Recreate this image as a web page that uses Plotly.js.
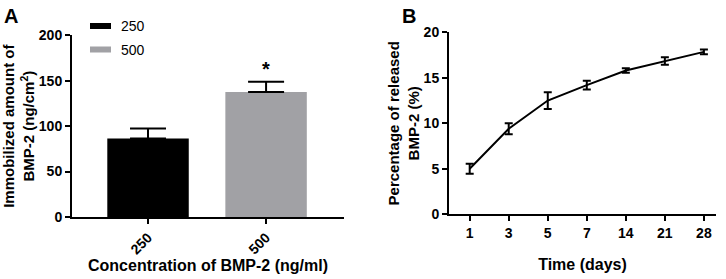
<!DOCTYPE html>
<html><head><meta charset="utf-8">
<script src="https://cdn.plot.ly/plotly-3.0.1.min.js"></script>
<style>html,body{margin:0;padding:0;background:#fff}#chart{width:726px;height:279px}</style>
</head><body><div id="chart"></div>
<script>
// Panel A data
const concCategories = ['250', '500'];
const immobilizedMean = [86.5, 137.5];
const immobilizedErr = [11.0, 11.3];
const barColors = ['#000000', '#a1a1a5'];
const yTicksA = [0, 50, 100, 150, 200];
// Panel B data
const timeLabels = ['1', '3', '5', '7', '14', '21', '28'];
const releaseMean = [5.0, 9.4, 12.5, 14.2, 15.8, 16.85, 17.85];
const releaseErr = [0.55, 0.6, 0.92, 0.48, 0.25, 0.42, 0.25];
const yTicksB = [0, 5, 10, 15, 20];

const FONT = 'Liberation Sans, Arial, sans-serif';
const W = 726, H = 279;
const px = v => v / W, py = v => 1 - v / H;

const traces = concCategories.map((c, i) => ({
  type: 'bar', x: [c], y: [immobilizedMean[i]], name: c,
  marker: {color: barColors[i], line: {width: 0}}, width: 0.69,
  error_y: {type: 'data', array: [immobilizedErr[i]], arrayminus: [0], symmetric: false,
            color: '#000', thickness: 2, width: 18},
  xaxis: 'x', yaxis: 'y', showlegend: false, hoverinfo: 'skip'
}));
traces.push({
  type: 'scatter', mode: 'lines', x: timeLabels, y: releaseMean,
  line: {color: '#000', width: 2},
  error_y: {type: 'data', array: releaseErr, color: '#000', thickness: 2, width: 4},
  xaxis: 'x2', yaxis: 'y2', showlegend: false, hoverinfo: 'skip'
});

const axBase = {
  showline: true, linewidth: 2, linecolor: '#000', ticks: 'outside', ticklen: 5,
  tickwidth: 2, tickcolor: '#000', showgrid: false, zeroline: false, fixedrange: true,
  tickfont: {family: FONT, size: 14, color: '#000', weight: 'bold'}
};
const xTitleFont = {family: FONT, size: 16, color: '#000', weight: 'bold'};
const yTitleFont = {family: FONT, size: 15, color: '#000', weight: 'bold'};

const shapes = [];
const annotations = [];
concCategories.forEach((c, i) => {
  const yc = 26 + i * 23.5;
  shapes.push({type: 'rect', xref: 'paper', yref: 'paper', x0: px(90), x1: px(111),
    y0: py(yc + 3), y1: py(yc - 3), fillcolor: barColors[i], line: {width: 0}});
  annotations.push({xref: 'paper', yref: 'paper', x: px(119), y: py(yc), text: c,
    showarrow: false, xanchor: 'left', yanchor: 'middle',
    font: {family: FONT, size: 14, color: '#000'}});
});
annotations.push({xref: 'paper', yref: 'paper', x: px(2), y: py(3), text: 'A', showarrow: false,
  xanchor: 'left', yanchor: 'top', font: {family: FONT, size: 20, color: '#000', weight: 'bold'}});
annotations.push({xref: 'paper', yref: 'paper', x: px(400), y: py(3), text: 'B', showarrow: false,
  xanchor: 'left', yanchor: 'top', font: {family: FONT, size: 20, color: '#000', weight: 'bold'}});
annotations.push({xref: 'x', yref: 'y', x: concCategories.indexOf('500'),
  y: immobilizedMean[1] + immobilizedErr[1], text: '<b>*</b>', showarrow: false,
  yanchor: 'bottom', yshift: 0, font: {family: FONT, size: 20, color: '#000'}});

const layout = {
  width: W, height: H, margin: {l: 0, r: 0, t: 0, b: 0},
  paper_bgcolor: '#fff', plot_bgcolor: '#fff', barmode: 'overlay',
  font: {family: FONT, color: '#000'},
  xaxis: Object.assign({}, axBase, {
    domain: [px(72), px(344)], anchor: 'y', type: 'category', range: [-0.644, 1.66],
    tickangle: -45, title: {text: 'Concentration of BMP-2 (ng/ml)', font: xTitleFont, standoff: 0}
  }),
  yaxis: Object.assign({}, axBase, {
    domain: [1 - 217 / H, 1 - 35.3 / H], anchor: 'x', range: [0, 200], tickvals: yTicksA,
    title: {text: 'Immobilized amount of<br>BMP-2 (ng/cm<sup>2</sup>)', font: yTitleFont}
  }),
  xaxis2: Object.assign({}, axBase, {
    domain: [px(449), px(716)], anchor: 'y2', type: 'category', range: [-0.53, 6.31],
    title: {text: 'Time (days)', font: xTitleFont, standoff: 19}
  }),
  yaxis2: Object.assign({}, axBase, {
    domain: [1 - 214.3 / H, 1 - 32.3 / H], anchor: 'x2', range: [0, 20], tickvals: yTicksB,
    title: {text: 'Percentage of released<br>BMP-2 (%)', font: yTitleFont}
  }),
  shapes: shapes, annotations: annotations
};

Plotly.newPlot('chart', traces, layout, {staticPlot: true, displayModeBar: false});
</script></body></html>
